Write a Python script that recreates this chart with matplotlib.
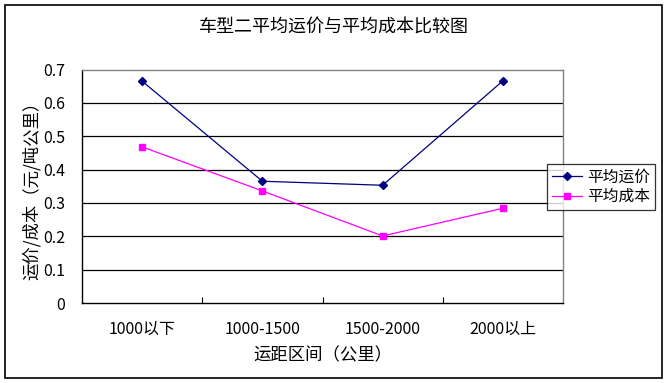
import matplotlib
matplotlib.use("Agg")
import matplotlib.pyplot as plt
from matplotlib.patches import Rectangle

plt.rcParams['font.family'] = ['Noto Sans CJK SC', 'DejaVu Sans']

categories = ['1000以下', '1000-1500', '1500-2000', '2000以上']
price = [0.665, 0.365, 0.353, 0.666]
cost = [0.468, 0.336, 0.201, 0.284]
series_names = ['平均运价', '平均成本']
yticks = [0, 0.1, 0.2, 0.3, 0.4, 0.5, 0.6, 0.7]

fig = plt.figure(figsize=(6.68, 3.83), dpi=100)
W, H = 668, 383
ax = fig.add_axes([82 / W, 1 - 303 / H, (563 - 82) / W, (303 - 69.5) / H])

x = list(range(len(categories)))
ax.plot(x, price, color='#000080', marker='D', markersize=4, linewidth=0.9, label=series_names[0])
ax.plot(x, cost, color='#FF00FF', marker='s', markersize=5, linewidth=0.9, label=series_names[1])

ax.set_xlim(-0.5, len(categories) - 0.5)
ax.set_ylim(0, 0.7)
ax.set_yticks(yticks)
ax.set_yticklabels([('%g' % v) for v in yticks], fontsize=11.5)
ax.set_xticks(x)
ax.set_xticklabels(categories, fontsize=11.5)
ax.tick_params(axis='x', length=0, pad=13)
ax.tick_params(axis='y', length=0, pad=12)
# category boundary ticks
ax.set_xticks([i + 0.5 for i in x[:-1]], minor=True)
ax.tick_params(axis='x', which='minor', direction='in', length=4, width=0.8, color='black')

for v in yticks[1:-1]:
    ax.axhline(v, color='black', linewidth=0.9, zorder=0)

for s in ['left', 'bottom']:
    ax.spines[s].set_color('black')
    ax.spines[s].set_linewidth(1.0)
for s in ['top', 'right']:
    ax.spines[s].set_color('#808080')
    ax.spines[s].set_linewidth(1.0)

ax.set_xlabel('运距区间（公里）', fontsize=12.5, labelpad=6)
ax.set_ylabel('运价/成本（元/吨公里）', fontsize=12.5, labelpad=2)
fig.text(0.5, 1 - 28 / H, '车型二平均运价与平均成本比较图', ha='center', va='center', fontsize=13)

leg = fig.legend(loc='upper left', bbox_to_anchor=(547 / W, 1 - 164 / H), fontsize=11.3,
                 frameon=True, fancybox=False, borderpad=0.3, handlelength=1.9,
                 labelspacing=0.15, handletextpad=0.35, borderaxespad=0)
leg.get_frame().set_edgecolor('black')
leg.get_frame().set_linewidth(0.9)

fig.patches.append(Rectangle((5 / W, 5 / H), 657 / W, 373 / H, transform=fig.transFigure,
                             fill=False, edgecolor='black', linewidth=1.2))

fig.savefig('out.png', dpi=100)
